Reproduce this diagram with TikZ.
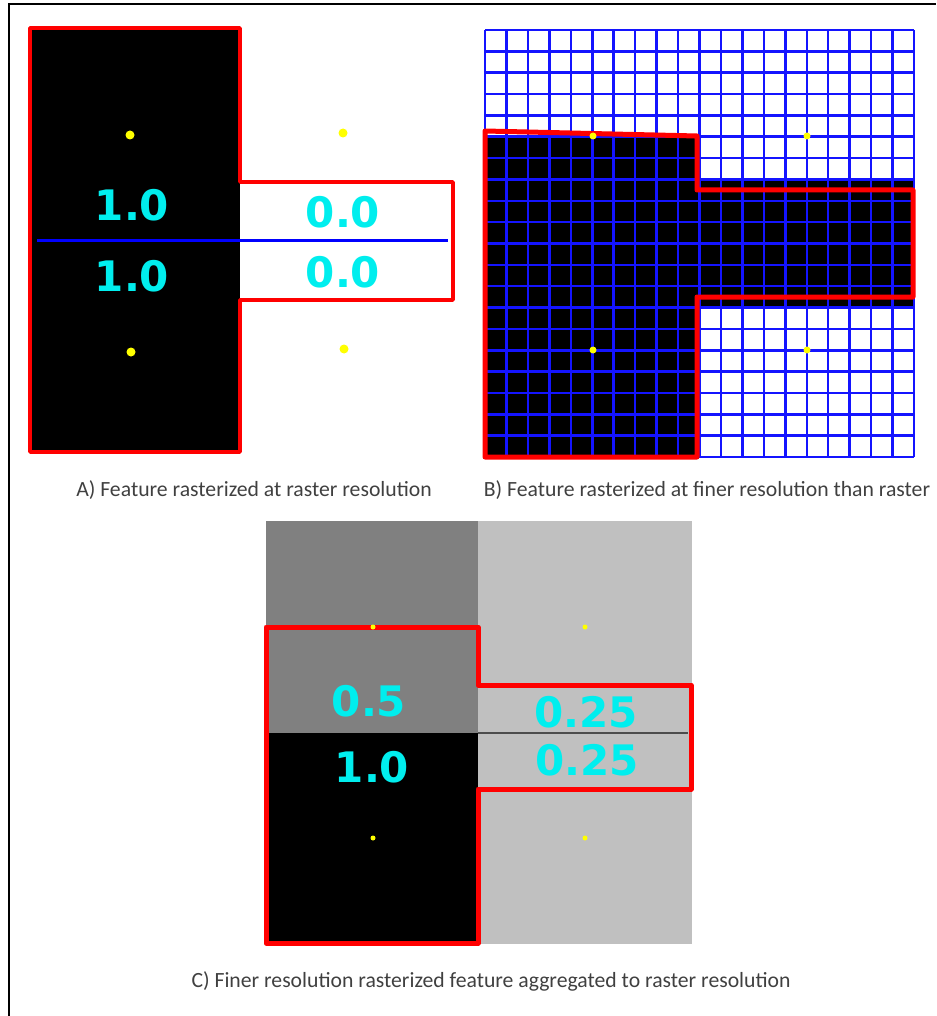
\documentclass[tikz,border=0pt]{standalone}
\usepackage{fontspec}
\newfontfamily\valfont{DejaVu Sans}
\newfontfamily\capfont{Carlito}
\definecolor{capgray}{HTML}{404040}
\definecolor{midgray}{HTML}{808080}
\definecolor{palegray}{HTML}{C0C0C0}
\definecolor{valcyan}{HTML}{00EEEE}
\definecolor{gridblue}{HTML}{1414FF}
\definecolor{featred}{HTML}{FF0000}
\definecolor{dotyellow}{HTML}{FFFF00}

\begin{document}
\begin{tikzpicture}[x=1pt, y=-1pt,
    outline/.style={featred, line width=#1, line join=round},
    outline/.default=3.5pt,
    val/.style={valcyan, font=\valfont\bfseries\fontsize{42}{42}\selectfont, inner sep=0pt},
    caption/.style={capgray, font=\capfont\fontsize{21.7}{21.7}\selectfont, inner sep=0pt},
    dot/.style={circle, fill=dotyellow, inner sep=0pt, minimum size=#1},
    dot/.default=8pt]
    \useasboundingbox (0,0) rectangle (936,1016);
    % Frame, top and left edges only
    \draw[line width=2.5pt] (9,1016) -- (9,4) -- (936,4);

    % A) feature at raster resolution
    \coordinate (a1) at (30,28);   \coordinate (a2) at (240,28);
    \coordinate (a3) at (240,182); \coordinate (a4) at (453,182);
    \coordinate (a5) at (453,300); \coordinate (a6) at (240,300);
    \coordinate (a7) at (240,452); \coordinate (a8) at (30,452);
    \coordinate (aL) at (37,240);  \coordinate (aR) at (448,240);

    \fill[black] (a1) rectangle (a7);
    \draw[blue, line width=3pt] (aL) -- (aR); % raster row boundary
    \draw[outline] (a1)--(a2)--(a3)--(a4)--(a5)--(a6)--(a7)--(a8)--cycle;

    \node[val] (vA1) at (132,205) {1.0};
    \node[val] (vA2) at (132,276) {1.0};
    \node[val] (vA3) at (343,212) {0.0};
    \node[val] (vA4) at (343,272) {0.0};

    \node[dot=9pt] (dA1) at (130,135) {};
    \node[dot=9pt] (dA2) at (343,133) {};
    \node[dot=9pt] (dA3) at (131,352) {};
    \node[dot=9pt] (dA4) at (344,349) {};

    \node[caption] (capA) at (254,490) {A) Feature rasterized at raster resolution};

    % B) feature at finer resolution
    \coordinate (b1) at (485,131); \coordinate (b2) at (697,136);
    \coordinate (b3) at (697,190); \coordinate (b4) at (913,190);
    \coordinate (b5) at (913,297); \coordinate (b6) at (697,297);
    \coordinate (b7) at (697,457); \coordinate (b8) at (485,457);

    \fill[black] (485,136.75) rectangle (699.5,457);
    \fill[black] (699.5,179.5) rectangle (914,307.6);
    \foreach \i in {0,...,20} {
        \draw[gridblue, line width=2.5pt] ({485+21.45*\i},30) -- ({485+21.45*\i},457);
        \draw[gridblue, line width=2.5pt] (485,{30+21.35*\i}) -- (914,{30+21.35*\i});
    }
    \draw[outline=5pt] (b1)--(b2)--(b3)--(b4)--(b5)--(b6)--(b7)--(b8)--cycle;

    \node[dot=7pt] (dB1) at (593,136) {};
    \node[dot=7pt] (dB2) at (807,136) {};
    \node[dot=7pt] (dB3) at (593,350) {};
    \node[dot=7pt] (dB4) at (807,350) {};

    \node[caption] (capB) at (707,490) {B) Feature rasterized at finer resolution than raster};

    % C) fine raster aggregated back
    \coordinate (c1) at (266,627); \coordinate (c2) at (478,627);
    \coordinate (c3) at (478,685); \coordinate (c4) at (691,685);
    \coordinate (c5) at (691,789); \coordinate (c6) at (478,789);
    \coordinate (c7) at (478,943); \coordinate (c8) at (266,943);
    \coordinate (cL) at (478,733); \coordinate (cR) at (688,733);

    \fill[midgray] (266,521) rectangle (478,733);
    \fill[black] (266,733) rectangle (478,944);
    \fill[palegray] (478,521) rectangle (692,944);
    \draw[black!70, line width=1.5pt] (cL) -- (cR);
    \draw[outline=5pt] (c1)--(c2)--(c3)--(c4)--(c5)--(c6)--(c7)--(c8)--cycle;

    \node[val] (vC1) at (369,701) {0.5};
    \node[val] (vC2) at (372,767) {1.0};
    \node[val] (vC3) at (586,712) {0.25};
    \node[val] (vC4) at (587,760) {0.25};

    \node[dot=5pt] (dC1) at (373,627) {};
    \node[dot=5pt] (dC2) at (585,627) {};
    \node[dot=5pt] (dC3) at (373,838) {};
    \node[dot=5pt] (dC4) at (585,838) {};

    \node[caption] (capC) at (491,981) {C) Finer resolution rasterized feature aggregated to raster resolution};
\end{tikzpicture}
\end{document}
